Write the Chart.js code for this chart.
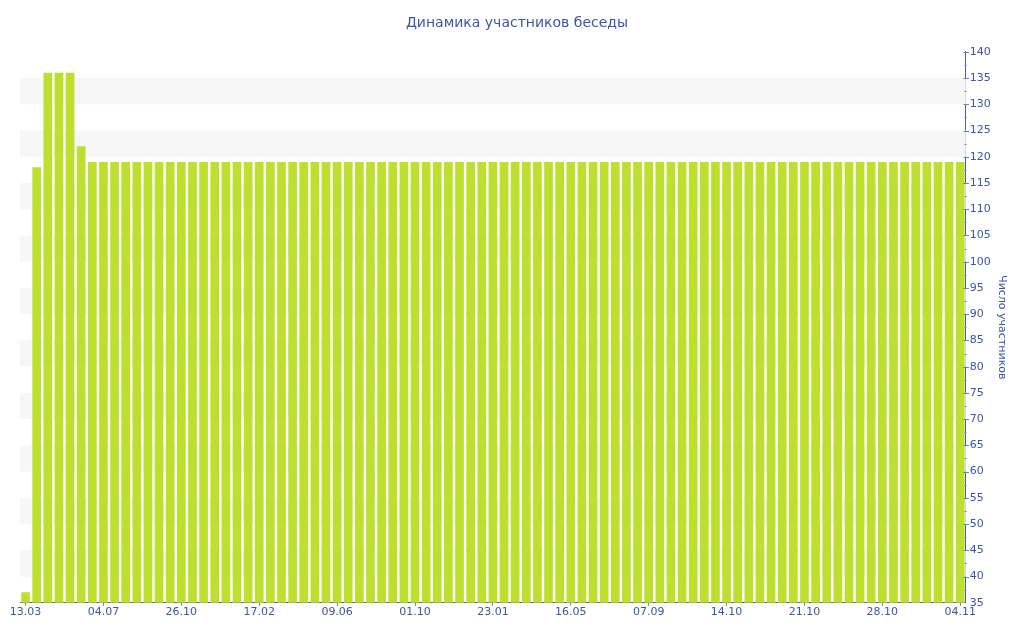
<!DOCTYPE html>
<html>
<head>
<meta charset="utf-8">
<script src="https://cdn.jsdelivr.net/npm/chart.js@4.4.0/dist/chart.umd.min.js"></script>
<style>
html,body{margin:0;padding:0;background:#fff;}
#wrap{width:1024px;height:640px;position:relative;}
</style>
</head>
<body>
<div id="wrap"><canvas id="c"></canvas></div>
<script>
const chartTitle = "Динамика участников беседы";
const yAxisTitle = "Число участников";
const dates = [
  "13.03","29.03","14.04","30.04","16.05","01.06","17.06",
  "04.07","20.07","05.08","21.08","06.09","22.09","09.10",
  "26.10","11.11","27.11","13.12","29.12","14.01","31.01",
  "17.02","05.03","21.03","06.04","22.04","08.05","24.05",
  "09.06","25.06","11.07","27.07","12.08","28.08","14.09",
  "01.10","17.10","02.11","18.11","04.12","20.12","06.01",
  "23.01","08.02","24.02","12.03","28.03","13.04","29.04",
  "16.05","01.06","17.06","03.07","19.07","04.08","21.08",
  "07.09","12.09","17.09","23.09","29.09","04.10","09.10",
  "14.10","15.10","16.10","17.10","18.10","19.10","20.10",
  "21.10","22.10","23.10","24.10","25.10","26.10","27.10",
  "28.10","29.10","30.10","31.10","01.11","02.11","03.11",
  "04.11"
];
const members = [
  37,118,136,136,136,122,119,
  119,119,119,119,119,119,119,
  119,119,119,119,119,119,119,
  119,119,119,119,119,119,119,
  119,119,119,119,119,119,119,
  119,119,119,119,119,119,119,
  119,119,119,119,119,119,119,
  119,119,119,119,119,119,119,
  119,119,119,119,119,119,119,
  119,119,119,119,119,119,119,
  119,119,119,119,119,119,119,
  119,119,119,119,119,119,119,
  119
];
const yMin = 35, yMax = 140, yStep = 5;
const bandStarts = [40,50,60,70,80,90,100,110,120,130];

const TEXT = '#3d55a5';
const AXIS = '#4a5da8';
const TICK = '#6f7fb8';

const bandPlugin = {
  id: 'bands',
  beforeDatasetsDraw(chart) {
    const {ctx, chartArea, scales} = chart;
    const y = scales.y;
    ctx.save();
    ctx.fillStyle = '#f7f7f7';
    bandStarts.forEach(v => {
      const top = y.getPixelForValue(v + yStep);
      const bot = y.getPixelForValue(v);
      ctx.fillRect(chartArea.left, top, chartArea.right - chartArea.left, bot - top);
    });
    ctx.restore();
  }
};

const yTickPlugin = {
  id: 'yticks',
  afterDraw(chart) {
    const {ctx} = chart;
    const y = chart.scales.y;
    const ax = Math.round(y.left) + 0.5;
    ctx.save();
    ctx.strokeStyle = TICK;
    ctx.lineWidth = 1;
    y.ticks.forEach((t, i) => {
      if (t.value === yMin) return;
      const py = Math.round(y.getPixelForTick(i)) + 0.5;
      ctx.beginPath();
      if (t.value % 5 === 0) {
        ctx.moveTo(ax - 3, py); ctx.lineTo(ax + 2.5, py);
      } else {
        ctx.moveTo(ax - 2, py); ctx.lineTo(ax, py);
      }
      ctx.stroke();
    });
    ctx.restore();
  }
};

new Chart(document.getElementById('c'), {
  type: 'bar',
  data: {
    labels: dates,
    datasets: [{
      label: yAxisTitle,
      data: members,
      backgroundColor: '#bde02f',
      borderWidth: 0,
      barPercentage: 0.78,
      categoryPercentage: 1.0
    }]
  },
  options: {
    responsive: true,
    maintainAspectRatio: false,
    animation: false,
    layout: { padding: { left: 20, right: 10, top: 0, bottom: 21 } },
    plugins: {
      legend: { display: false },
      tooltip: { enabled: false },
      title: {
        display: true,
        text: chartTitle,
        color: TEXT,
        font: { family: 'DejaVu Sans', size: 14, weight: 'normal' },
        padding: { top: 15, bottom: 20 }
      }
    },
    scales: {
      x: {
        offset: true,
        grid: {
          offset: false,
          drawOnChartArea: false,
          drawTicks: true,
          tickLength: 3,
          color: TICK
        },
        border: { display: true, color: AXIS, width: 1 },
        ticks: {
          autoSkip: false,
          maxRotation: 0,
          minRotation: 0,
          padding: 0,
          color: TEXT,
          font: { family: 'DejaVu Sans', size: 11 },
          callback: function(value, index) {
            return index % 7 === 0 ? dates[index] : null;
          }
        }
      },
      y: {
        position: 'right',
        min: yMin,
        max: yMax,
        grid: {
          drawOnChartArea: false,
          drawTicks: false
        },
        border: { display: true, color: AXIS, width: 1 },
        ticks: {
          stepSize: 2.5,
          autoSkip: false,
          padding: 4,
          color: TEXT,
          font: { family: 'DejaVu Sans', size: 11 },
          callback: function(v) { return v % 5 === 0 ? String(v) : ''; }
        },
        title: {
          display: true,
          text: yAxisTitle,
          color: TEXT,
          font: { family: 'DejaVu Sans', size: 11 },
          padding: { top: 6, bottom: 0 }
        }
      }
    }
  },
  plugins: [bandPlugin, yTickPlugin]
});
</script>
</body>
</html>
